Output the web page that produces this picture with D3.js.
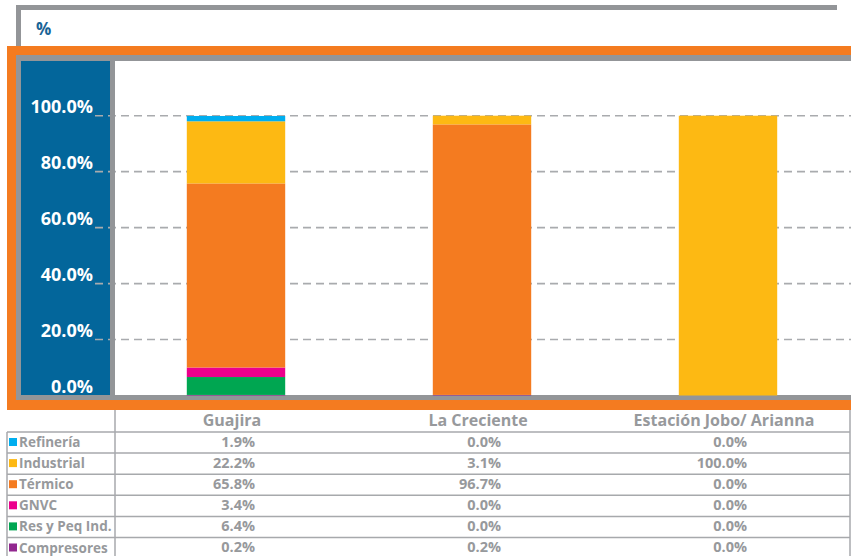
<!DOCTYPE html>
<html>
<head>
<meta charset="utf-8">
<script src="https://cdn.jsdelivr.net/npm/d3@7/dist/d3.min.js"></script>
<style>
  html, body { margin: 0; padding: 0; background: #fff; }
  svg { display: block; font-family: "Open Sans", "Noto Sans", sans-serif; }
</style>
</head>
<body>
<svg id="chart" width="851" height="556"></svg>
<script>
// ---- data ----
const categories = ["Guajira", "La Creciente", "Estación Jobo/ Arianna"];
const seriesNames = ["Refinería", "Industrial", "Térmico", "GNVC", "Res y Peq Ind.", "Compresores"];
const seriesColors = ["#00AEEF", "#FDB913", "#F47B20", "#EC008C", "#00A651", "#92278F"];
const refineria = [1.9, 0.0, 0.0];
const industrial = [22.2, 3.1, 100.0];
const termico = [65.8, 96.7, 0.0];
const gnvc = [3.4, 0.0, 0.0];
const resPeqInd = [6.4, 0.0, 0.0];
const compresores = [0.2, 0.2, 0.0];
const seriesValues = [refineria, industrial, termico, gnvc, resPeqInd, compresores];
const yTicks = [0, 20, 40, 60, 80, 100];
const titleText = "%";

// ---- styles ----
const ORANGE = "#F47B20", GRAY = "#939598", PANEL = "#03669B", TXT = "#97999c", LINE = "#a7a9ac";

const svg = d3.select("#chart");

// table of rows for d3.stack
const rows = categories.map((c, i) => {
  const o = { category: c };
  seriesNames.forEach((s, k) => o[s] = seriesValues[k][i]);
  return o;
});
const stackKeys = seriesNames.slice().reverse(); // bottom -> top
const stacked = d3.stack().keys(stackKeys)(rows);
const colorOf = d3.scaleOrdinal().domain(seriesNames).range(seriesColors);

const x = d3.scaleBand().domain(categories).range([113, 851]).paddingInner(0.6).paddingOuter(0.3);
const y = d3.scaleLinear().domain([0, 100]).range([395.5, 115.7]);

// ---- frame ----
// top title box
svg.append("rect").attr("x", 16).attr("y", 5).attr("width", 821).attr("height", 5).attr("fill", GRAY);
svg.append("rect").attr("x", 16).attr("y", 5).attr("width", 5).attr("height", 45).attr("fill", GRAY);
svg.append("text").attr("x", 36).attr("y", 35).attr("fill", "#1a6496")
  .attr("font-size", 17).attr("font-weight", 700).text(titleText);
// orange outer
svg.append("rect").attr("x", 7).attr("y", 46).attr("width", 844).attr("height", 9).attr("fill", ORANGE);
svg.append("rect").attr("x", 7).attr("y", 46).attr("width", 9).attr("height", 364).attr("fill", ORANGE);
svg.append("rect").attr("x", 7).attr("y", 400).attr("width", 844).attr("height", 10).attr("fill", ORANGE);
// gray inner frame
svg.append("rect").attr("x", 16).attr("y", 55).attr("width", 835).attr("height", 6).attr("fill", GRAY);
svg.append("rect").attr("x", 16).attr("y", 55).attr("width", 5).attr("height", 345).attr("fill", GRAY);
svg.append("rect").attr("x", 16).attr("y", 395).attr("width", 835).attr("height", 5).attr("fill", GRAY);
// blue axis panel
svg.append("rect").attr("x", 21).attr("y", 61).attr("width", 89).attr("height", 334).attr("fill", PANEL);

// ---- gridlines ----
svg.append("g").selectAll("line").data(yTicks.filter(t => t > 0)).join("line")
  .attr("x1", 95).attr("x2", 851)
  .attr("y1", d => y(d)).attr("y2", d => y(d))
  .attr("stroke", "#a9abae").attr("stroke-width", 1.6).attr("stroke-dasharray", "8,5");

// gray divider on top of grid
svg.append("rect").attr("x", 110).attr("y", 61).attr("width", 5).attr("height", 334).attr("fill", GRAY);

// ---- y axis labels ----
const yAxis = d3.axisLeft(y).tickValues(yTicks).tickSize(0).tickPadding(0)
  .tickFormat(d => d.toFixed(1) + "%");
const ya = svg.append("g").attr("transform", "translate(93,0)").call(yAxis);
ya.select(".domain").remove();
ya.selectAll("text").attr("fill", "#fff").attr("font-size", 18).attr("font-weight", 700)
  .attr("font-family", "'Open Sans', sans-serif").attr("dy", "-3").attr("dominant-baseline", "auto")
  .attr("text-anchor", "end");

// ---- bars ----
svg.append("g").selectAll("g").data(stacked).join("g")
  .attr("fill", d => colorOf(d.key))
  .selectAll("rect").data(d => d).join("rect")
  .attr("x", d => x(d.data.category))
  .attr("width", x.bandwidth())
  .attr("y", d => y(d[1]))
  .attr("height", d => Math.max(0, y(d[0]) - y(d[1])));

// ---- data table ----
const rowY = d3.scaleBand().domain(seriesNames).range([432, 432 + 6 * 21.1]);
const tbl = svg.append("g");
// horizontal lines
tbl.selectAll("line.h").data(seriesNames).join("line").attr("class", "h")
  .attr("x1", 7).attr("x2", 850)
  .attr("y1", d => rowY(d)).attr("y2", d => rowY(d))
  .attr("stroke", LINE).attr("stroke-width", 1.5);
// vertical lines
tbl.append("line").attr("x1", 7).attr("x2", 7).attr("y1", 432).attr("y2", 556).attr("stroke", LINE).attr("stroke-width", 1.5);
tbl.append("line").attr("x1", 115).attr("x2", 115).attr("y1", 410).attr("y2", 556).attr("stroke", LINE).attr("stroke-width", 1.5);
tbl.append("line").attr("x1", 850).attr("x2", 850).attr("y1", 410).attr("y2", 556).attr("stroke", LINE).attr("stroke-width", 1.5);
// header
tbl.selectAll("text.hd").data(categories).join("text").attr("class", "hd")
  .attr("x", d => x(d) + x.bandwidth() / 2 - 4).attr("y", 426)
  .attr("text-anchor", "middle").attr("fill", TXT).attr("font-size", 16).attr("font-weight", 700)
  .text(d => d);
// row labels + swatches
tbl.selectAll("rect.sw").data(seriesNames).join("rect").attr("class", "sw")
  .attr("x", 9).attr("y", d => rowY(d) + 6).attr("width", 8).attr("height", 8)
  .attr("fill", d => colorOf(d));
tbl.selectAll("text.lb").data(seriesNames).join("text").attr("class", "lb")
  .attr("x", 19).attr("y", d => rowY(d) + 15)
  .attr("fill", TXT).attr("font-size", 13.5).attr("font-weight", 700)
  .text(d => d);
// values
seriesNames.forEach((s, k) => {
  tbl.selectAll("text.v" + k).data(categories).join("text").attr("class", "v" + k)
    .attr("x", d => x(d) + x.bandwidth() / 2 + 19).attr("y", rowY(s) + 14.8)
    .attr("text-anchor", "end").attr("fill", TXT).attr("font-size", 14.5).attr("font-weight", 700)
    .text((d, i) => seriesValues[k][i].toFixed(1) + "%");
});
</script>
</body>
</html>
